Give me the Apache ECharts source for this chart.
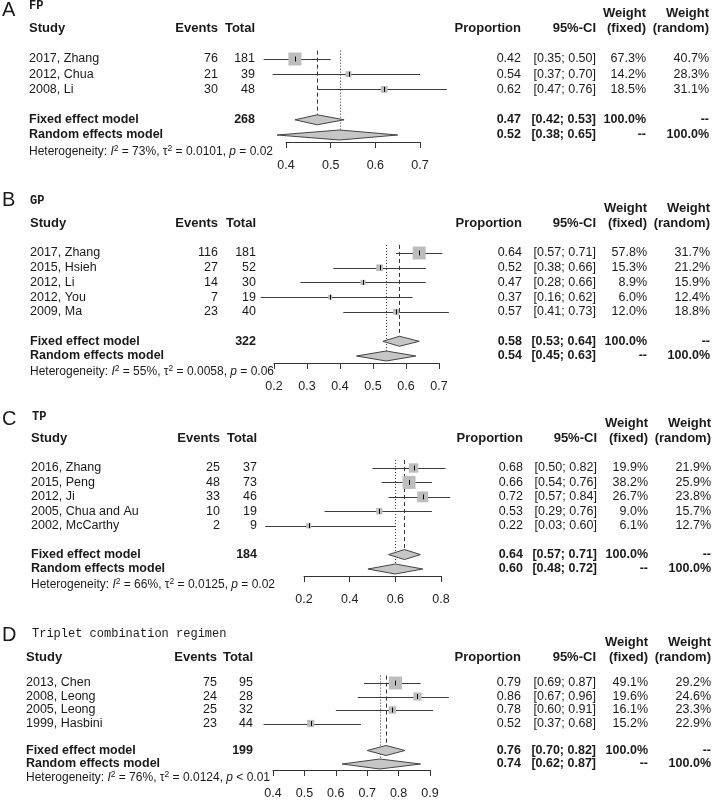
<!DOCTYPE html>
<html><head><meta charset="utf-8">
<script src="https://cdn.jsdelivr.net/npm/echarts@6/dist/echarts.min.js"></script>
<style>html,body{margin:0;padding:0;background:#fff}#c{width:712px;height:800px}</style>
</head><body><div id="c"></div><script>
// ---------- Panel A: FP ----------
const fpStudies = ['2017, Zhang', '2012, Chua', '2008, Li'];
const fpEvents = [76, 21, 30];
const fpTotal = [181, 39, 48];
const fpProp = [0.42, 0.54, 0.62];
const fpLower = [0.35, 0.37, 0.47];
const fpUpper = [0.50, 0.70, 0.76];
const fpWFixed = [67.3, 14.2, 18.5];
const fpWRandom = [40.7, 28.3, 31.1];
const fpFixed = [0.47, 0.42, 0.53];
const fpRandom = [0.52, 0.38, 0.65];
const fpN = 268;
const fpHet = ['73%', '0.0101', '= 0.02'];
const fpTicks = [0.4, 0.7, 0.1];

// ---------- Panel B: GP ----------
const gpStudies = ['2017, Zhang', '2015, Hsieh', '2012, Li', '2012, You', '2009, Ma'];
const gpEvents = [116, 27, 14, 7, 23];
const gpTotal = [181, 52, 30, 19, 40];
const gpProp = [0.64, 0.52, 0.47, 0.37, 0.57];
const gpLower = [0.57, 0.38, 0.28, 0.16, 0.41];
const gpUpper = [0.71, 0.66, 0.66, 0.62, 0.73];
const gpWFixed = [57.8, 15.3, 8.9, 6.0, 12.0];
const gpWRandom = [31.7, 21.2, 15.9, 12.4, 18.8];
const gpFixed = [0.58, 0.53, 0.64];
const gpRandom = [0.54, 0.45, 0.63];
const gpN = 322;
const gpHet = ['55%', '0.0058', '= 0.06'];
const gpTicks = [0.2, 0.7, 0.1];

// ---------- Panel C: TP ----------
const tpStudies = ['2016, Zhang', '2015, Peng', '2012, Ji', '2005, Chua and Au', '2002, McCarthy'];
const tpEvents = [25, 48, 33, 10, 2];
const tpTotal = [37, 73, 46, 19, 9];
const tpProp = [0.68, 0.66, 0.72, 0.53, 0.22];
const tpLower = [0.50, 0.54, 0.57, 0.29, 0.03];
const tpUpper = [0.82, 0.76, 0.84, 0.76, 0.60];
const tpWFixed = [19.9, 38.2, 26.7, 9.0, 6.1];
const tpWRandom = [21.9, 25.9, 23.8, 15.7, 12.7];
const tpFixed = [0.64, 0.57, 0.71];
const tpRandom = [0.60, 0.48, 0.72];
const tpN = 184;
const tpHet = ['66%', '0.0125', '= 0.02'];
const tpTicks = [0.2, 0.8, 0.2];

// ---------- Panel D: Triplet combination regimen ----------
const trStudies = ['2013, Chen', '2008, Leong', '2005, Leong', '1999, Hasbini'];
const trEvents = [75, 24, 25, 23];
const trTotal = [95, 28, 32, 44];
const trProp = [0.79, 0.86, 0.78, 0.52];
const trLower = [0.69, 0.67, 0.60, 0.37];
const trUpper = [0.87, 0.96, 0.91, 0.68];
const trWFixed = [49.1, 19.6, 16.1, 15.2];
const trWRandom = [29.2, 24.6, 23.3, 22.9];
const trFixed = [0.76, 0.70, 0.82];
const trRandom = [0.74, 0.62, 0.87];
const trN = 199;
const trHet = ['76%', '0.0124', '< 0.01'];
const trTicks = [0.4, 0.9, 0.1];

const FONT = '"Liberation Sans", Arial, sans-serif';
const MONO = '"Liberation Mono", "DejaVu Sans Mono", monospace';
const TXT = '#1a1a1a';

// layout (pixel positions) per panel
const panels = [
  { letter:'A', title:'FP', studies:fpStudies, events:fpEvents, total:fpTotal, prop:fpProp, lower:fpLower, upper:fpUpper,
    wf:fpWFixed, wr:fpWRandom, fixed:fpFixed, random:fpRandom, N:fpN, het:fpHet, ticks:fpTicks,
    L:{ letterY:10, titleY:6, titleX:29, head2Y:28, top:59, bottom:135, axisOff:7, hetY:152, x0:286, x1:420,
        studyX:29, evX:218, totX:255, propX:521, ciX:596, wfX:646, wrX:709 } },
  { letter:'B', title:'GP', studies:gpStudies, events:gpEvents, total:gpTotal, prop:gpProp, lower:gpLower, upper:gpUpper,
    wf:gpWFixed, wr:gpWRandom, fixed:gpFixed, random:gpRandom, N:gpN, het:gpHet, ticks:gpTicks,
    L:{ letterY:200, titleY:201, titleX:30, head2Y:223, top:253, bottom:356, axisOff:7, hetY:372, x0:274, x1:439,
        studyX:30, evX:218, totX:256, propX:522, ciX:596, wfX:647, wrX:710 } },
  { letter:'C', title:'TP', studies:tpStudies, events:tpEvents, total:tpTotal, prop:tpProp, lower:tpLower, upper:tpUpper,
    wf:tpWFixed, wr:tpWRandom, fixed:tpFixed, random:tpRandom, N:tpN, het:tpHet, ticks:tpTicks,
    L:{ letterY:419, titleY:417, titleX:32, head2Y:438, top:468, bottom:569, axisOff:7, hetY:585, x0:304, x1:441,
        studyX:31, evX:220, totX:257, propX:523, ciX:597, wfX:648, wrX:711 } },
  { letter:'D', title:'Triplet combination regimen', studies:trStudies, events:trEvents, total:trTotal, prop:trProp, lower:trLower, upper:trUpper,
    wf:trWFixed, wr:trWRandom, fixed:trFixed, random:trRandom, N:trN, het:trHet, ticks:trTicks,
    L:{ letterY:635, titleY:634, titleX:32, head2Y:657, top:683, bottom:767, axisOff:6, hetY:778, x0:273, x1:430,
        studyX:26, evX:217, totX:253, propX:521, ciX:596, wfX:648, wrX:711 } }
];

function fmtCI(lo, hi) { return '[' + lo.toFixed(2) + '; ' + hi.toFixed(2) + ']'; }

function tstyle(x, y, text, align, bold, size, family) {
  return { x: x, y: y, text: String(text), align: align, textAlign: align, verticalAlign: 'middle', textVerticalAlign: 'middle',
    fontSize: size || 12.5, fontFamily: family || FONT, fontWeight: bold ? 'bold' : 'normal', fill: TXT };
}

function makeSeries(p, i) {
  const n = p.studies.length, L = p.L;
  const rows = [];
  for (let k = 0; k < n; k++) rows.push([p.prop[k], k, 0]);
  rows.push([p.fixed[0], n + 1, 1]);
  rows.push([p.random[0], n + 2, 2]);
  const wmax = Math.max.apply(null, p.wf);
  return {
    type: 'custom', xAxisIndex: i, yAxisIndex: i, clip: false, silent: true, animation: false,
    data: rows,
    renderItem: function (params, api) {
      const kind = api.value(2), row = api.value(1), k = params.dataIndex;
      const y = api.coord([p.ticks[0], row])[1];
      const yl = Math.round(y) + 0.5;
      const ch = [];
      const T = (x, s, align, bold) => ({ type: 'text', z2: 20, style: tstyle(x, y, s, align, bold) });
      if (kind === 0) {
        const a = api.coord([p.lower[k], row])[0], b = api.coord([p.upper[k], row])[0], c = api.coord([p.prop[k], row])[0];
        const s = 13 * Math.sqrt(p.wf[k] / wmax);
        ch.push({ type: 'line', z2: 3, shape: { x1: a, y1: yl, x2: b, y2: yl }, style: { stroke: '#3a3a3a', lineWidth: 1 } });
        ch.push({ type: 'rect', z2: 5, shape: { x: c - s / 2, y: y - s / 2, width: s, height: s }, style: { fill: '#bdbdbd' } });
        ch.push({ type: 'line', z2: 6, shape: { x1: Math.round(c) + 0.5, y1: y - 2.5, x2: Math.round(c) + 0.5, y2: y + 2.5 }, style: { stroke: '#000', lineWidth: 1 } });
        ch.push(T(L.studyX, p.studies[k], 'left', false));
        ch.push(T(L.evX, p.events[k], 'right', false));
        ch.push(T(L.totX, p.total[k], 'right', false));
        ch.push(T(L.propX, p.prop[k].toFixed(2), 'right', false));
        ch.push(T(L.ciX, fmtCI(p.lower[k], p.upper[k]), 'right', false));
        ch.push(T(L.wfX, p.wf[k].toFixed(1) + '%', 'right', false));
        ch.push(T(L.wrX, p.wr[k].toFixed(1) + '%', 'right', false));
      } else {
        const est = kind === 1 ? p.fixed : p.random;
        const e = api.coord([est[0], row])[0], lo = api.coord([est[1], row])[0], hi = api.coord([est[2], row])[0];
        const topY = api.coord([est[0], -0.55])[1];
        const ex = Math.round(e) + 0.5;
        ch.push({ type: 'line', z2: 2, shape: { x1: ex, y1: topY, x2: ex, y2: y - 5 },
          style: { stroke: '#333', lineWidth: 1, lineDash: kind === 1 ? [4, 3] : [1, 2] } });
        ch.push({ type: 'polygon', z2: 8, shape: { points: [[lo, y], [e, y - 5], [hi, y], [e, y + 5]] },
          style: { fill: '#c6c6c6', stroke: '#444', lineWidth: 1 } });
        ch.push(T(L.studyX, kind === 1 ? 'Fixed effect model' : 'Random effects model', 'left', true));
        if (kind === 1) ch.push(T(L.totX, p.N, 'right', true));
        ch.push(T(L.propX, est[0].toFixed(2), 'right', true));
        ch.push(T(L.ciX, fmtCI(est[1], est[2]), 'right', true));
        ch.push(T(L.wfX, kind === 1 ? '100.0%' : '--', 'right', true));
        ch.push(T(L.wrX, kind === 1 ? '--' : '100.0%', 'right', true));
      }
      return { type: 'group', children: ch };
    }
  };
}

const graphics = [];
panels.forEach(function (p) {
  const L = p.L;
  const g = (x, y, s, align, bold, size, family) => graphics.push({ type: 'text', silent: true, style: tstyle(x, y, s, align, bold, size, family) });
  g(2, L.letterY, p.letter, 'left', false, 20);
  g(L.titleX, L.titleY, p.title, 'left', p.title.length < 4, 12, MONO);
  const h1 = L.head2Y - 15;
  g(L.studyX, L.head2Y, 'Study', 'left', true, 13);
  g(L.evX, L.head2Y, 'Events', 'right', true, 13);
  g(L.totX, L.head2Y, 'Total', 'right', true, 13);
  g(L.propX, L.head2Y, 'Proportion', 'right', true, 13);
  g(L.ciX, L.head2Y, '95%-CI', 'right', true, 13);
  g(L.wfX, h1, 'Weight', 'right', true, 13);
  g(L.wfX, L.head2Y, '(fixed)', 'right', true, 13);
  g(L.wrX, h1, 'Weight', 'right', true, 13);
  g(L.wrX, L.head2Y, '(random)', 'right', true, 13);
  graphics.push({ type: 'text', silent: true, x: L.studyX, y: L.hetY,
    style: { text: '{n|Heterogeneity: }{i|I}{s|2}{n| = ' + p.het[0] + ', τ}{s|2}{n| = ' + p.het[1] + ', }{i|p}{n| ' + p.het[2] + '}',
      align: 'left', textAlign: 'left', verticalAlign: 'middle', textVerticalAlign: 'middle',
      rich: {
        n: { fontSize: 12, fontFamily: FONT, fill: TXT, color: TXT, lineHeight: 16 },
        i: { fontSize: 12, fontFamily: FONT, fontStyle: 'italic', fill: TXT, color: TXT, lineHeight: 16 },
        s: { fontSize: 8.5, fontFamily: FONT, fill: TXT, color: TXT, lineHeight: 8, verticalAlign: 'top' }
      } } });
});

const option = {
  backgroundColor: '#fff',
  animation: false,
  grid: panels.map(p => ({ left: p.L.x0, width: p.L.x1 - p.L.x0, top: p.L.top, height: p.L.bottom - p.L.top })),
  xAxis: panels.map((p, i) => ({
    gridIndex: i, type: 'value', position: 'bottom', min: p.ticks[0], max: p.ticks[1], interval: p.ticks[2], offset: p.L.axisOff,
    axisLine: { show: true, onZero: false, lineStyle: { color: '#333', width: 1 } },
    axisTick: { show: true, length: 6, lineStyle: { color: '#333', width: 1 } },
    axisLabel: { margin: 17, fontSize: 12.5, fontFamily: FONT, color: '#222', formatter: v => v.toFixed(1) },
    splitLine: { show: false }
  })),
  yAxis: panels.map((p, i) => ({ gridIndex: i, type: 'value', min: 0, max: p.studies.length + 2, inverse: true, show: false, splitLine: { show: false } })),
  series: panels.map(makeSeries),
  graphic: graphics
};

const chart = echarts.init(document.getElementById('c'), null, { renderer: 'canvas' });
chart.setOption(option);
</script></body></html>
